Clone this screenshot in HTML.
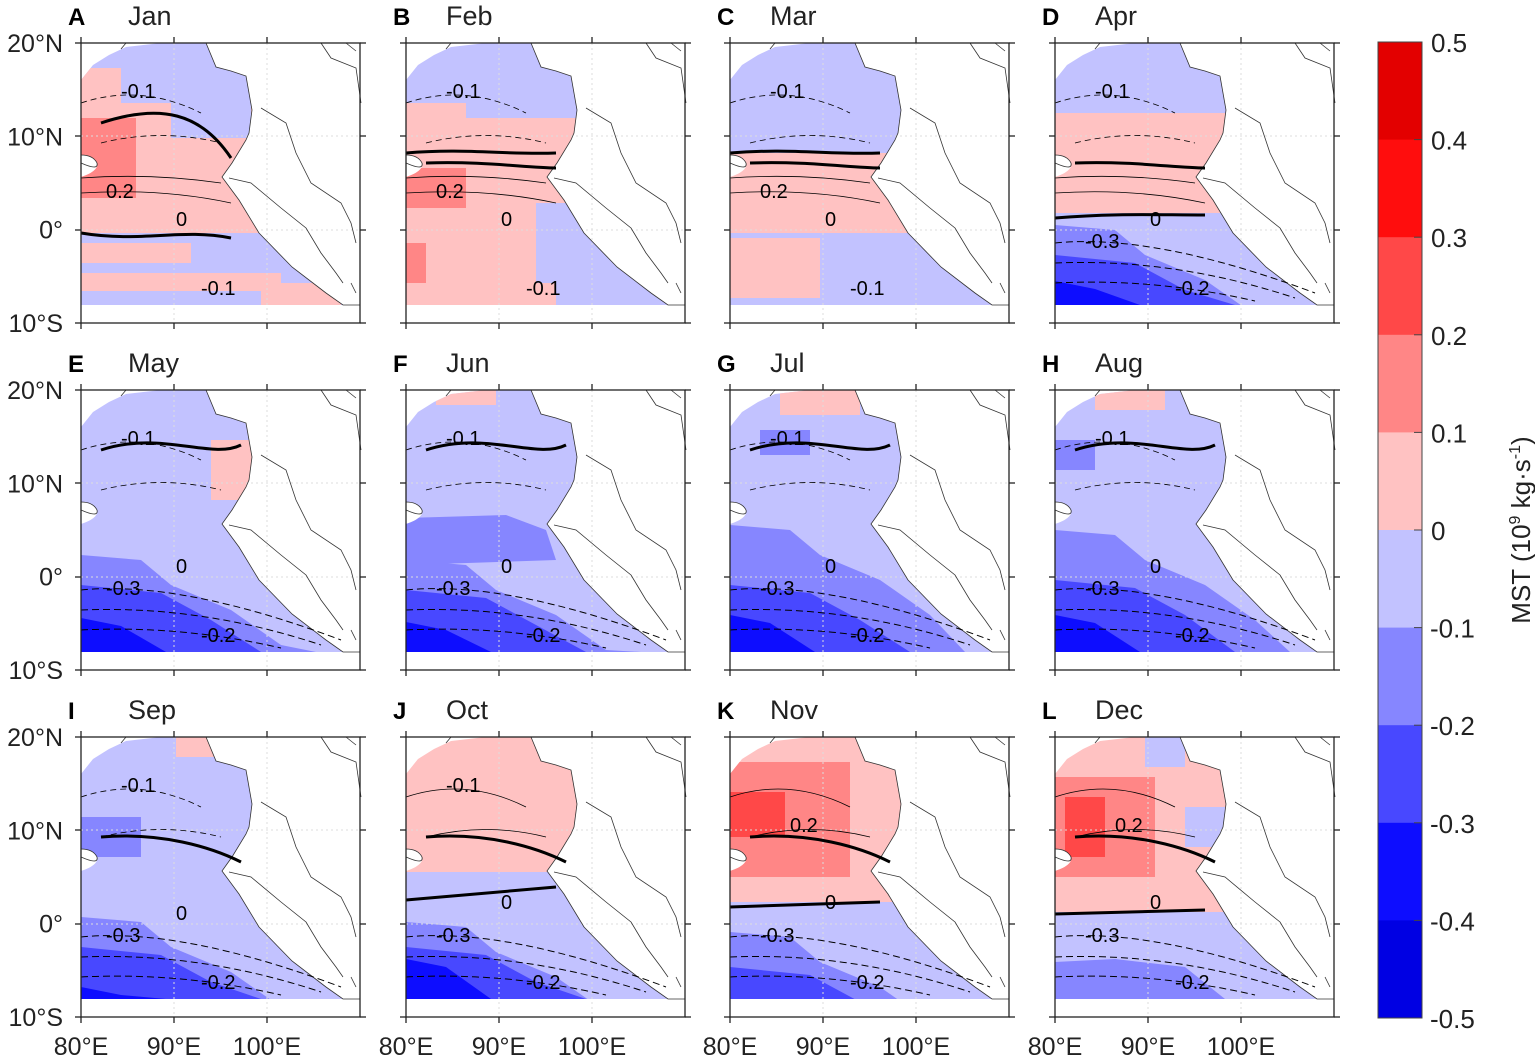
<!DOCTYPE html>
<html><head><meta charset="utf-8"><style>
body{margin:0;background:#fff;width:1535px;height:1059px;overflow:hidden;font-family:"Liberation Sans",sans-serif}
</style></head><body>
<svg id="s" width="1535" height="1059" xmlns="http://www.w3.org/2000/svg" font-family="Liberation Sans, DejaVu Sans, sans-serif"></svg>
<script>
const S=document.getElementById('s');let h='';
const C={r1:'#ffc2c2',r2:'#ff8686',r3:'#ff4848',r4:'#ff0d0d',r5:'#e30000',b1:'#c2c2ff',b2:'#8686ff',b3:'#4848ff',b4:'#0d0dff',b5:'#0000e3'};
const mask="M0,37 L12,22 L28,12 L45,4 L80,0 L125,0 L135,24 L150,28 L165,33 L171,67 L168,90 L165,97 L151,120 L141,134 L158,157 L178,190 L211,224 L245,250 L262,262 L0,262 L0,134 Q18,128 16,120 Q12,112 0,112 Z";
function slant(y2,y3,y4,k){k=k||1;return [['p',`0,${y2} 60,${y2+5} 90,${y2+30} 150,${y2+55} 200,${y2+90} 235,262 0,262`,'b2'],['p',`0,${y3} 80,${y3+8} 130,${y3+35} 180,262 0,262`,'b3'],['p',`0,${y4} 40,${y4+8} 85,262 0,262`,'b4']];}
const P=[
['A','Jan',[[0,0,280,60,'b1'],[0,25,40,35,'r1'],[0,60,280,130,'r1'],[90,55,80,40,'b1'],[0,75,55,80,'r2'],[0,190,280,72,'b1'],[0,200,110,20,'r1'],[0,230,200,18,'r1'],[180,240,80,22,'r1']]],
['B','Feb',[[0,0,280,75,'b1'],[0,60,60,30,'r1'],[0,75,280,187,'r1'],[0,125,60,40,'r2'],[0,200,20,40,'r2'],[130,160,150,80,'b1'],[150,240,130,22,'b1']]],
['C','Mar',[[0,0,280,110,'b1'],[0,110,280,80,'r1'],[0,190,280,72,'b1'],[0,195,90,60,'r1']]],
['D','Apr',[[0,0,280,70,'b1'],[0,70,280,100,'r1'],[0,170,280,92,'b1']].concat(slant(182,212,238))],
['E','May',[[0,0,280,262,'b1'],[130,50,50,60,'r1']].concat(slant(165,195,228))],
['F','Jun',[[0,0,280,262,'b1'],[30,0,60,15,'r1'],['p','0,128 100,125 140,140 150,170 0,175','b2']].concat(slant(170,200,232))],
['G','Jul',[[0,0,280,262,'b1'],[50,0,80,25,'r1'],[30,40,50,25,'b2']].concat(slant(135,195,225))],
['H','Aug',[[0,0,280,262,'b1'],[40,0,70,20,'r1'],[0,50,40,30,'b2']].concat(slant(140,190,225))],
['I','Sep',[[0,0,280,262,'b1'],[95,0,50,20,'r1'],[0,80,60,40,'b2']].concat(slant(180,210,250))],
['J','Oct',[[0,0,280,135,'r1'],[0,135,280,127,'b1']].concat(slant(185,210,222))],
['K','Nov',[[0,0,280,165,'r1'],[0,25,120,115,'r2'],[0,55,55,45,'r3'],[0,165,280,97,'b1']].concat(slant(195,230,262))],
['L','Dec',[[0,0,280,175,'r1'],[90,0,40,30,'b1'],[130,70,40,40,'b1'],[0,40,100,100,'r2'],[10,60,40,60,'r3'],[0,175,280,87,'b1'],['p','0,225 60,222 130,230 170,262 0,262','b2']]]
];
const XS=[81,406,730,1055],YS=[43,390,737],W=279,H=280;
const dashed=[[0,'M0,200 Q100,190 260,250'],[0,'M0,220 Q120,215 240,255'],[0,'M0,240 Q100,235 200,258']];
P.forEach((p,i)=>{
 const x0=XS[i%4],y0=YS[Math.floor(i/4)];
 h+=`<clipPath id="c${i}"><path d="${mask}"/></clipPath>`;
 h+=`<g transform="translate(${x0},${y0})">`;
 h+=`<g clip-path="url(#c${i})">`;
 p[2].forEach(b=>{if(b[0]==='p')h+=`<polygon points="${b[1]}" fill="${C[b[2]]}"/>`;else h+=`<rect x="${b[0]}" y="${b[1]}" width="${b[2]}" height="${b[3]}" fill="${C[b[4]]}"/>`;});
 h+=`</g>`;
 [93,186].forEach(g=>h+=`<line x1="${g}" y1="0" x2="${g}" y2="${H}" stroke="#ddd" stroke-dasharray="2,3"/>`);
 [93,187].forEach(g=>h+=`<line x1="0" y1="${g}" x2="${W}" y2="${g}" stroke="#ddd" stroke-dasharray="2,3"/>`);
 h+=`<path d="M45,0 L40,6 M125,0 L135,24 L150,28 L165,33 L171,67 L168,90 L165,97 L151,120 L141,134 L158,157 L178,190 L211,224 L245,250 L262,262 L279,262" fill="none" stroke="#333" stroke-width="0.8"/>`;
 h+=`<path d="M0,120 Q18,128 16,120 Q12,112 0,112" fill="none" stroke="#333" stroke-width="0.8"/>`;
 h+=`<path d="M180,65 L205,80 L215,110 L230,140 L260,160 L270,180 L275,200 M148,135 L170,140 L200,165 L225,185 L240,210 L255,230 L262,240 M240,0 L250,15 L275,25 L280,60 M265,0 L275,8 M270,240 L275,250" fill="none" stroke="#333" stroke-width="0.8"/>`;
 const r=Math.floor(i/4);
 if(r==0){h+=`<path d="M0,${i==3?175:(i==0?190:110)} C60,${i==3?170:(i==0?200:105)} 100,${i==3?172:(i==0?185:112)} 150,${i==3?172:(i==0?195:110)}" fill="none" stroke="#000" stroke-width="3"/>`;
  h+=`<path d="M20,${i==0?80:120} C80,${i==0?60:118} 120,${i==0?70:125} 150,${i==0?115:125}" fill="none" stroke="#000" stroke-width="3"/>`;
  h+=`<path d="M0,150 Q80,145 150,160 M0,135 Q70,130 140,140" fill="none" stroke="#000" stroke-width="0.8"/>`;}
 else {h+=`<path d="M20,${r==1?60:100} C80,${r==1?40:95} 130,${r==1?70:110} 160,${r==1?55:125}" fill="none" stroke="#000" stroke-width="3"/>`;
  if(i>=9) h+=`<path d="M0,${i==11?177:(i==10?170:163)} L150,${i==11?173:(i==10?165:150)}" fill="none" stroke="#000" stroke-width="3"/>`;}
 if(i>=3) dashed.forEach(d=>h+=`<path d="${d[1]}" fill="none" stroke="#000" stroke-width="1" stroke-dasharray="7,4"/>`);
 h+=`<path d="M0,60 Q60,40 120,70 M20,100 Q80,85 140,100" fill="none" stroke="#000" stroke-width="0.8" stroke-dasharray="${i>=9?'0':'6,4'}"/>`;
 h+=`<text x="${i%4==0?25:30}" y="${i>=3?205:155}" font-size="20">${i>=3?'-0.3':'0.2'}</text><text x="120" y="252" font-size="20">${i>=3?'-0.2':'-0.1'}</text><text x="${i>=10?60:40}" y="${i>=10?95:55}" font-size="20">${i>=10?'0.2':'-0.1'}</text><text x="95" y="${i>=9?172:183}" font-size="20">0</text>`;
 h+=`<rect x="0" y="0" width="${W}" height="${H}" fill="none" stroke="#222" stroke-width="1.3"/>`;
 [0,93,186].forEach(t=>h+=`<line x1="${t}" y1="-6" x2="${t}" y2="0" stroke="#222" stroke-width="1.3"/><line x1="${t}" y1="${H}" x2="${t}" y2="${H+6}" stroke="#222" stroke-width="1.3"/>`);
 [0,93,187,280].forEach(t=>h+=`<line x1="-6" y1="${t}" x2="0" y2="${t}" stroke="#222" stroke-width="1.3"/><line x1="${W}" y1="${t}" x2="${W+6}" y2="${t}" stroke="#222" stroke-width="1.3"/>`);
 h+=`<text x="-13" y="-18" font-size="24" font-weight="bold">${p[0]}</text><text x="${i%4==0?47:40}" y="-18" font-size="27" fill="#222">${p[1]}</text>`;
 if(i%4==0){['20°N','10°N','0°','10°S'].forEach((t,k)=>h+=`<text x="-18" y="${k*93.3+9}" font-size="25" text-anchor="end" fill="#222">${t}</text>`);}
 if(r==2){['80°E','90°E','100°E'].forEach((t,k)=>h+=`<text x="${k*93}" y="${H+38}" font-size="25" text-anchor="middle" fill="#222">${t}</text>`);}
 h+=`</g>`;
});
const cb=['r5','r4','r3','r2','r1','b1','b2','b3','b4','b5'];const cbh=97.6;
cb.forEach((c,k)=>h+=`<rect x="1378" y="${42+k*cbh}" width="44" height="${cbh+0.5}" fill="${C[c]}"/>`);
h+=`<rect x="1378" y="42" width="44" height="976" fill="none" stroke="#444" stroke-width="1"/>`;
['0.5','0.4','0.3','0.2','0.1','0','-0.1','-0.2','-0.3','-0.4','-0.5'].forEach((t,k)=>{h+=`<line x1="1414" y1="${42+k*cbh}" x2="1422" y2="${42+k*cbh}" stroke="#444"/><text x="${t[0]=='-'?1430:1431}" y="${42+k*cbh+10}" font-size="26" fill="#222">${t}</text>`;});
h+=`<text transform="translate(1530,530) rotate(-90)" font-size="26" text-anchor="middle" fill="#222">MST  (10<tspan font-size="16" dy="-10">9</tspan><tspan dy="10"> kg·s</tspan><tspan font-size="16" dy="-10">-1</tspan><tspan dy="10">)</tspan></text>`;
S.innerHTML=h;
</script>
</body></html>
